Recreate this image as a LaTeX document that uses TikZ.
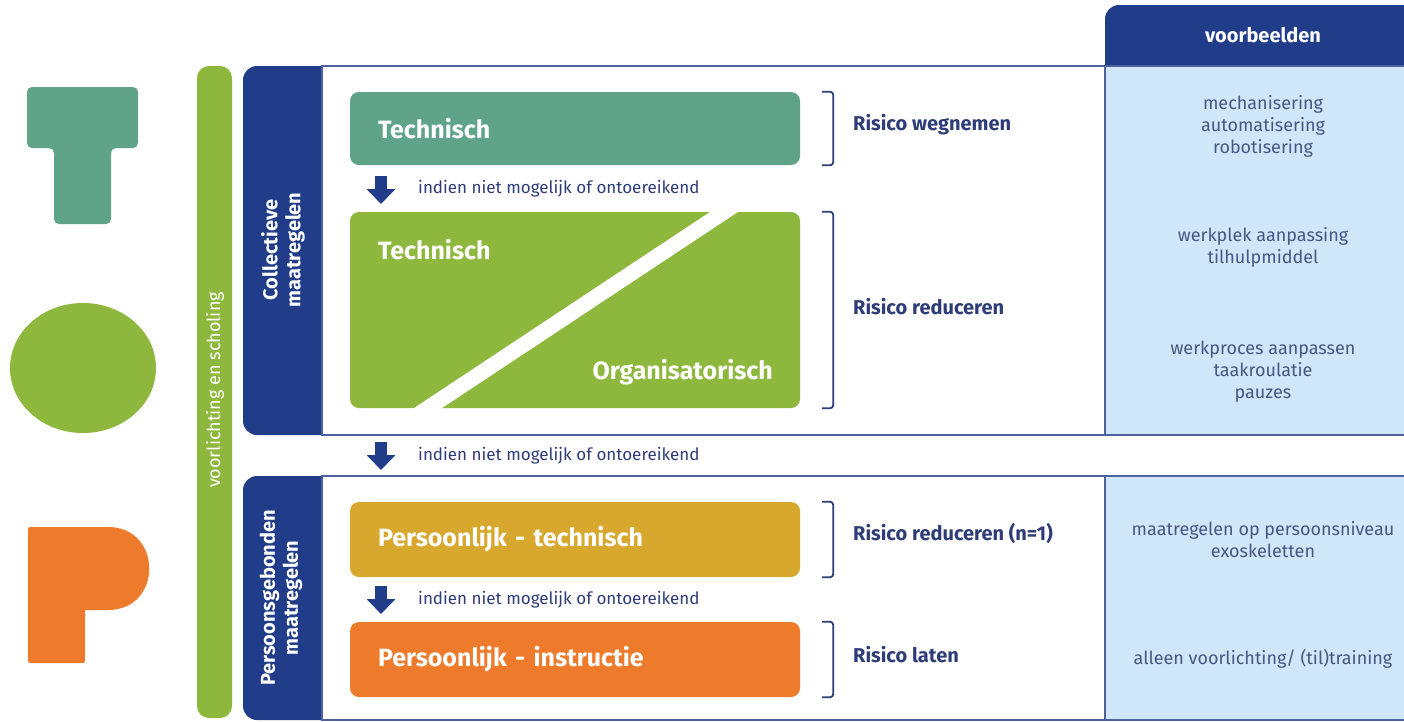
\documentclass[tikz,border=0pt]{standalone}
\usepackage{fontspec}
\setmainfont{Fira Sans}
\usetikzlibrary{arrows.meta}

\definecolor{topteal}{HTML}{5FA388}
\definecolor{topgreen}{HTML}{8DB83D}
\definecolor{topyellow}{HTML}{D7A82D}
\definecolor{toporange}{HTML}{EE7B2B}
\definecolor{topnavy}{HTML}{213C89}
\definecolor{topink}{HTML}{2E3C78}
\definecolor{topgrey}{HTML}{485682}
\definecolor{topsky}{HTML}{CFE7F9}

\begin{document}
\begin{tikzpicture}[x=1pt, y=-1pt,
    stepbox/.style={rectangle, rounded corners=9pt, minimum width=450pt, text width=394pt, inner xsep=28pt, inner ysep=0pt, align=left, text=white, font=\fontsize{25}{28}\selectfont\bfseries},
    steptext/.style={inner sep=0pt, text=white, font=\fontsize{25}{28}\selectfont\bfseries},
    sidetext/.style={rotate=90, align=center, inner sep=0pt, text=white, font=\fontsize{20}{23}\selectfont\bfseries},
    risk/.style={anchor=west, inner sep=0pt, text=topink, font=\fontsize{20}{24}\selectfont\bfseries},
    ifnot/.style={anchor=west, inner sep=0pt, text=topink, font=\fontsize{17}{20}\selectfont},
    example/.style={align=center, inner sep=0pt, text=topgrey, font=\fontsize{18}{22}\selectfont},
    bracket/.style={draw=topink, line width=1.8pt, rounded corners=3pt},
    downarrow/.style={draw=topnavy, line width=12pt, -{Triangle[width=28pt, length=15pt]}},
    panel/.style={draw=topnavy!80, line width=1.5pt}]
    \useasboundingbox[fill=white] (0,0) rectangle (1404,721);

    % T O P letters
    \fill[topteal, rounded corners=5pt] (27,87) -- (138,87) -- (138,148) -- (111,148) -- (111,224) -- (54,224) -- (54,148) -- (27,148) -- cycle;
    \fill[topgreen] (83,368) ellipse (73pt and 65pt);
    \fill[toporange] (33,527) -- (108,527) .. controls (163,527) and (163,610) .. (108,610) -- (85,610) -- (85,658) .. controls (85,663) .. (80,663) -- (33,663) .. controls (28,663) .. (28,658) -- (28,532) .. controls (28,527) .. (33,527) -- cycle;

    % vertical bar
    \fill[topgreen, rounded corners=12pt] (197,66) rectangle (232,718);
    \node[rotate=90, inner sep=0pt, text=white, font=\fontsize{18}{20}\selectfont] (scholing) at (215,390) {voorlichting en scholing};

    % header
    \fill[topnavy, rounded corners=14pt] (1105,5) rectangle (1430,90);
    \node[inner sep=0pt, text=white, font=\fontsize{20}{24}\selectfont\bfseries] (voorbeelden) at (1263,35) {voorbeelden};

    % section collectief
    \fill[topnavy, rounded corners=14pt] (243,66) rectangle (345,435);
    \draw[panel, fill=white] (322,66) rectangle (1430,435);
    \draw[panel, fill=topsky] (1105,66) rectangle (1430,435);
    \node[sidetext] (collectief) at (283,250) {Collectieve\\maatregelen};

    % section persoonsgebonden
    \fill[topnavy, rounded corners=14pt] (243,476) rectangle (345,720);
    \draw[panel, fill=white] (322,476) rectangle (1430,720);
    \draw[panel, fill=topsky] (1105,476) rectangle (1430,720);
    \node[sidetext] (persoon) at (281,598) {Persoonsgebonden\\maatregelen};

    % steps
    \node[stepbox, fill=topteal, minimum height=73pt] (tech) at (575,128.5) {Technisch};
    \node[stepbox, fill=topgreen, minimum height=196pt] (techorg) at (575,310) {};
    \fill[white] (719,206) -- (747,206) -- (433,414) -- (405,414) -- cycle;
    \node[steptext, anchor=west] (techlbl) at (378,250) {Technisch};
    \node[steptext, anchor=east] (orglbl) at (773,372) {Organisatorisch};
    \node[stepbox, fill=topyellow, minimum height=75pt] (perstech) at (575,539.5) {Persoonlijk - technisch};
    \node[stepbox, fill=toporange, minimum height=75pt] (persinstr) at (575,659.5) {Persoonlijk - instructie};

    % arrows
    \coordinate (a1s) at (381,176);
    \coordinate (a1e) at (381,204);
    \coordinate (a2s) at (381,442);
    \coordinate (a2e) at (381,470);
    \coordinate (a3s) at (381,586);
    \coordinate (a3e) at (381,614);
    \draw[downarrow] (a1s) -- (a1e);
    \draw[downarrow] (a2s) -- (a2e);
    \draw[downarrow] (a3s) -- (a3e);
    \node[ifnot] (if1) at (418,189) {indien niet mogelijk of ontoereikend};
    \node[ifnot] (if2) at (418,456) {indien niet mogelijk of ontoereikend};
    \node[ifnot] (if3) at (418,600) {indien niet mogelijk of ontoereikend};

    % brackets
    \draw[bracket] ([xshift=22pt]tech.north east) -- ([xshift=33pt]tech.north east) -- ([xshift=33pt]tech.south east) -- ([xshift=22pt]tech.south east);
    \draw[bracket] ([xshift=22pt]techorg.north east) -- ([xshift=33pt]techorg.north east) -- ([xshift=33pt]techorg.south east) -- ([xshift=22pt]techorg.south east);
    \draw[bracket] ([xshift=22pt]perstech.north east) -- ([xshift=33pt]perstech.north east) -- ([xshift=33pt]perstech.south east) -- ([xshift=22pt]perstech.south east);
    \draw[bracket] ([xshift=22pt]persinstr.north east) -- ([xshift=33pt]persinstr.north east) -- ([xshift=33pt]persinstr.south east) -- ([xshift=22pt]persinstr.south east);

    % risk
    \node[risk] (wegnemen) at (853,125) {Risico wegnemen};
    \node[risk] (reduceren) at (853,307) {Risico reduceren};
    \node[risk] (reducerenn) at (853,533) {Risico reduceren (n=1)};
    \node[risk] (laten) at (853,655) {Risico laten};

    % voorbeelden
    \node[example] (ex1) at (1263,126) {mechanisering\\automatisering\\robotisering};
    \node[example] (ex2) at (1263,247) {werkplek aanpassing\\tilhulpmiddel};
    \node[example] (ex3) at (1263,372) {werkproces aanpassen\\taakroulatie\\pauzes};
    \node[example] (ex4) at (1263,540) {maatregelen op persoonsniveau\\exoskeletten};
    \node[example] (ex5) at (1263,659) {alleen voorlichting/ (til)training};
\end{tikzpicture}
\end{document}
